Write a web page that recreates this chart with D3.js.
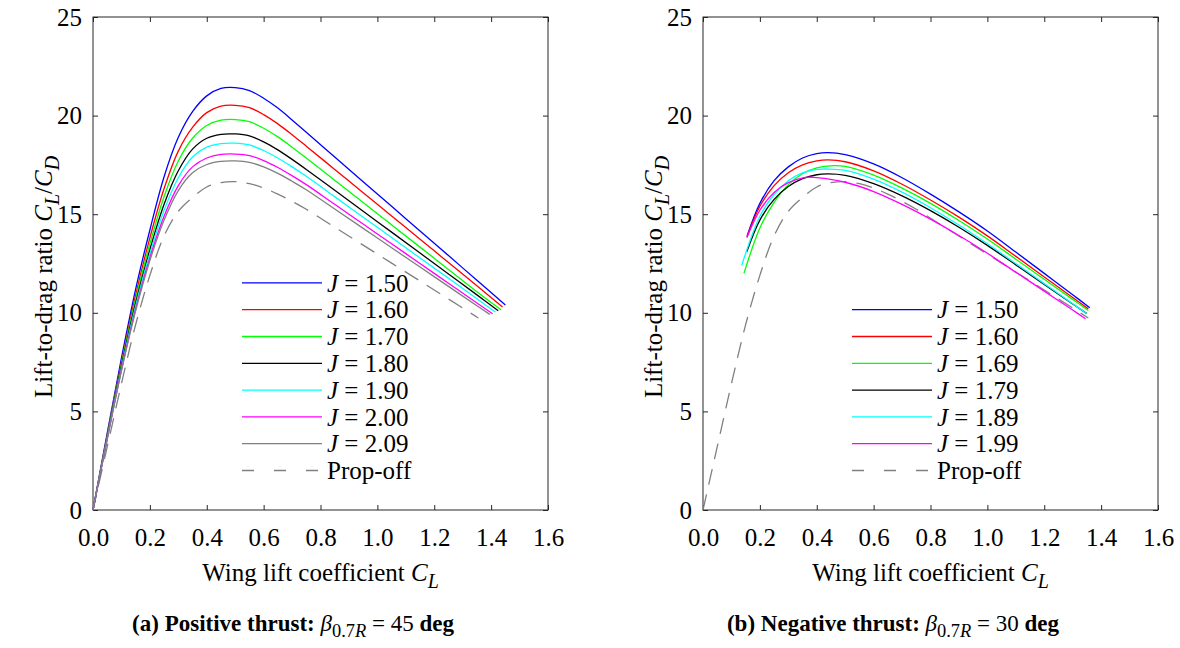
<!DOCTYPE html>
<html>
<head>
<meta charset="utf-8">
<script src="https://cdn.jsdelivr.net/npm/d3@7"></script>
<style>
  body { margin: 0; background: #fff; }
  svg { font-family: "Liberation Serif", "Times New Roman", serif; }
</style>
</head>
<body>
<svg id="fig" width="1180" height="648"></svg>
<script>
// axis ticks
const xTicks = [0, 0.2, 0.4, 0.6, 0.8, 1.0, 1.2, 1.4, 1.6];
const yTicks = [0, 5, 10, 15, 20, 25];

// (a) positive thrust, beta = 45 deg
const posJ = ['1.50', '1.60', '1.70', '1.80', '1.90', '2.00', '2.09'];
const posJ150 = [[0,0],[0.05,3.9],[0.1,7.7],[0.15,11.2],[0.2,14.2],[0.25,16.9],[0.3,18.9],[0.35,20.2],[0.4,21.0],[0.45,21.38],[0.5,21.42],[0.55,21.27],[0.6,20.88],[0.65,20.38],[0.7,19.78],[0.75,19.15],[0.85,17.9],[0.95,16.65],[1.05,15.4],[1.15,14.15],[1.25,12.9],[1.35,11.65],[1.45,10.4]];
const posJ160 = [[0,0],[0.05,3.8],[0.1,7.5],[0.15,10.9],[0.2,13.8],[0.25,16.3],[0.3,18.2],[0.35,19.4],[0.4,20.15],[0.45,20.48],[0.5,20.52],[0.55,20.4],[0.6,20.05],[0.65,19.58],[0.7,19.03],[0.75,18.45],[0.85,17.27],[0.95,16.09],[1.05,14.91],[1.15,13.73],[1.25,12.55],[1.35,11.37],[1.44,10.3]];
const posJ170 = [[0,0],[0.05,3.75],[0.1,7.4],[0.15,10.7],[0.2,13.5],[0.25,15.9],[0.3,17.7],[0.35,18.85],[0.4,19.5],[0.45,19.77],[0.5,19.8],[0.55,19.69],[0.6,19.36],[0.65,18.92],[0.7,18.4],[0.75,17.85],[0.85,16.72],[0.95,15.59],[1.05,14.46],[1.15,13.33],[1.25,12.2],[1.35,11.07],[1.435,10.15]];
const posJ180 = [[0,0],[0.05,3.7],[0.1,7.3],[0.15,10.5],[0.2,13.2],[0.25,15.5],[0.3,17.2],[0.35,18.3],[0.4,18.85],[0.45,19.05],[0.5,19.07],[0.55,18.97],[0.6,18.67],[0.65,18.26],[0.7,17.78],[0.75,17.27],[0.85,16.21],[0.95,15.15],[1.05,14.09],[1.15,13.03],[1.25,11.97],[1.35,10.91],[1.425,10.1]];
const posJ190 = [[0,0],[0.05,3.65],[0.1,7.2],[0.15,10.35],[0.2,13.0],[0.25,15.2],[0.3,16.85],[0.35,17.9],[0.4,18.4],[0.45,18.58],[0.5,18.6],[0.55,18.51],[0.6,18.23],[0.65,17.85],[0.7,17.4],[0.75,16.92],[0.85,15.89],[0.95,14.85],[1.05,13.82],[1.15,12.78],[1.25,11.75],[1.35,10.71],[1.415,10.04]];
const posJ200 = [[0,0],[0.05,3.6],[0.1,7.1],[0.15,10.2],[0.2,12.8],[0.25,14.9],[0.3,16.45],[0.35,17.4],[0.4,17.85],[0.45,18.03],[0.5,18.05],[0.55,17.97],[0.6,17.72],[0.65,17.37],[0.7,16.95],[0.75,16.5],[0.85,15.5],[0.95,14.5],[1.05,13.5],[1.15,12.5],[1.25,11.5],[1.35,10.5],[1.405,9.95]];
const posJ209 = [[0,0],[0.05,3.6],[0.1,7.05],[0.15,10.1],[0.2,12.65],[0.25,14.7],[0.3,16.2],[0.35,17.1],[0.4,17.52],[0.45,17.68],[0.5,17.7],[0.55,17.63],[0.6,17.4],[0.65,17.07],[0.7,16.67],[0.75,16.24],[0.85,15.26],[0.95,14.28],[1.05,13.3],[1.15,12.32],[1.25,11.34],[1.35,10.36],[1.395,9.92]];

// (b) negative thrust, beta = 30 deg
const negJ = ['1.50', '1.60', '1.69', '1.79', '1.89', '1.99'];
const negJ150 = [[0.155,13.9],[0.2,15.55],[0.25,16.7],[0.3,17.4],[0.35,17.85],[0.4,18.07],[0.44,18.12],[0.5,18.02],[0.6,17.55],[0.7,16.85],[0.8,16.02],[0.9,15.12],[1.0,14.15],[1.1,13.08],[1.2,12.0],[1.3,10.92],[1.36,10.26]];
const negJ160 = [[0.155,13.85],[0.2,15.4],[0.25,16.45],[0.3,17.1],[0.35,17.5],[0.4,17.7],[0.44,17.75],[0.5,17.66],[0.6,17.2],[0.7,16.52],[0.8,15.72],[0.9,14.85],[1.0,13.9],[1.1,12.86],[1.2,11.82],[1.3,10.78],[1.355,10.2]];
const negJ169 = [[0.144,12.0],[0.2,14.3],[0.25,15.6],[0.3,16.5],[0.35,17.05],[0.4,17.35],[0.46,17.46],[0.5,17.42],[0.6,16.98],[0.7,16.32],[0.8,15.55],[0.9,14.68],[1.0,13.74],[1.1,12.72],[1.2,11.7],[1.3,10.68],[1.355,10.12]];
const negJ179 = [[0.154,13.1],[0.2,14.7],[0.25,15.75],[0.3,16.4],[0.35,16.8],[0.4,17.0],[0.44,17.04],[0.5,16.97],[0.6,16.55],[0.7,15.93],[0.8,15.18],[0.9,14.34],[1.0,13.42],[1.1,12.43],[1.2,11.44],[1.3,10.45],[1.35,9.96]];
const negJ189 = [[0.136,12.4],[0.2,14.9],[0.25,16.0],[0.3,16.7],[0.35,17.1],[0.4,17.27],[0.44,17.29],[0.5,17.22],[0.6,16.78],[0.7,16.12],[0.8,15.33],[0.9,14.45],[1.0,13.5],[1.1,12.5],[1.2,11.48],[1.3,10.46],[1.35,9.95]];
const negJ199 = [[0.154,13.8],[0.2,15.2],[0.25,16.1],[0.3,16.6],[0.36,16.87],[0.4,16.85],[0.5,16.62],[0.6,16.15],[0.7,15.5],[0.8,14.75],[0.9,13.92],[1.0,13.02],[1.1,12.06],[1.2,11.1],[1.3,10.14],[1.345,9.7]];

// prop-off reference (same in both panels)
const propOff = [[0,0],[0.05,3.2],[0.1,6.4],[0.15,9.4],[0.2,11.9],[0.25,13.9],[0.3,15.15],[0.35,15.85],[0.4,16.38],[0.45,16.6],[0.5,16.65],[0.55,16.55],[0.6,16.33],[0.65,16.02],[0.7,15.65],[0.75,15.25],[0.85,14.34],[0.95,13.43],[1.05,12.52],[1.15,11.61],[1.25,10.7],[1.355,9.74]];

const lineColors = ['#0000ff', '#ff0000', '#00ff00', '#000000', '#00ffff', '#ff00ff', '#808080'];

const svg = d3.select('#fig');
const FS = 25;

// append text made of styled parts (italic / bold / subscript)
function rich(textSel, parts, size) {
    let down = false;
    parts.forEach(p => {
        const ts = textSel.append('tspan').text(p.t);
        if (p.i) ts.attr('font-style', 'italic');
        if (p.b) ts.attr('font-weight', 'bold');
        if (p.sub) {
            ts.attr('font-size', size * 0.8);
            if (!down) { ts.attr('dy', size * 0.28); down = true; }
        } else if (down) {
            ts.attr('dy', -size * 0.28);
            down = false;
        }
    });
}

function drawPanel(left, series, jLabels, caption, capX) {
    const x = d3.scaleLinear().domain([0, 1.6]).range([left, left + 455]);
    const y = d3.scaleLinear().domain([0, 25]).range([510, 17]);
    const g = svg.append('g');

    const bottom = g.append('g').attr('transform', 'translate(0,510)')
        .call(d3.axisBottom(x).tickValues(xTicks).tickSizeInner(-5).tickSizeOuter(0)
            .tickPadding(18).tickFormat(d3.format('.1f')));
    const leftAx = g.append('g').attr('transform', `translate(${left},0)`)
        .call(d3.axisLeft(y).tickValues(yTicks).tickSizeInner(-5).tickSizeOuter(0)
            .tickPadding(11).tickFormat(d3.format('d')));
    const top = g.append('g').attr('transform', 'translate(0,17)')
        .call(d3.axisTop(x).tickValues(xTicks).tickSizeInner(-5).tickSizeOuter(0).tickFormat(''));
    const right = g.append('g').attr('transform', `translate(${left + 455},0)`)
        .call(d3.axisRight(y).tickValues(yTicks).tickSizeInner(-5).tickSizeOuter(0).tickFormat(''));

    [bottom, leftAx, top, right].forEach(a => {
        a.attr('font-family', null).attr('font-size', FS);
        a.select('.domain').remove();
        a.selectAll('line').attr('stroke', '#262626');
        a.selectAll('text').attr('fill', '#000');
    });

    g.append('rect')
        .attr('x', left).attr('y', 17)
        .attr('width', 455).attr('height', 493)
        .attr('fill', 'none').attr('stroke', '#262626').attr('stroke-width', 1);

    const line = d3.line().x(d => x(d[0])).y(d => y(d[1])).curve(d3.curveCatmullRom.alpha(0.5));

    g.append('path').datum(propOff)
        .attr('d', line).attr('fill', 'none')
        .attr('stroke', '#808080').attr('stroke-width', 1.3)
        .attr('stroke-dasharray', '16,10');

    series.forEach((s, i) => {
        g.append('path').datum(s)
            .attr('d', line).attr('fill', 'none')
            .attr('stroke', lineColors[i]).attr('stroke-width', 1.3);
    });

    // legend, rows anchored at the bottom
    const n = series.length + 1;
    const lx = left + 149;
    const rowY = i => 470.5 - (n - 1 - i) * 26.8;
    const leg = g.append('g').attr('font-size', FS);
    jLabels.forEach((j, i) => {
        leg.append('line').attr('x1', lx).attr('x2', lx + 80)
            .attr('y1', rowY(i)).attr('y2', rowY(i))
            .attr('stroke', lineColors[i]).attr('stroke-width', 1.3);
        const t = leg.append('text').attr('x', lx + 85).attr('y', rowY(i)).attr('dy', '0.35em');
        rich(t, [{ t: 'J', i: true }, { t: ' = ' + j }], FS);
    });
    leg.append('line').attr('x1', lx).attr('x2', lx + 80)
        .attr('y1', rowY(n - 1)).attr('y2', rowY(n - 1))
        .attr('stroke', '#808080').attr('stroke-width', 1.3)
        .attr('stroke-dasharray', '12,20');
    leg.append('text').attr('x', lx + 85).attr('y', rowY(n - 1)).attr('dy', '0.35em').text('Prop-off');

    // axis titles
    const xl = g.append('text').attr('x', left + 227.5).attr('y', 581)
        .attr('text-anchor', 'middle').attr('font-size', FS);
    rich(xl, [{ t: 'Wing lift coefficient ' }, { t: 'C', i: true }, { t: 'L', i: true, sub: true }], FS);

    const yl = g.append('text').attr('transform', `translate(${left - 41},277) rotate(-90)`)
        .attr('text-anchor', 'middle').attr('font-size', FS);
    rich(yl, [{ t: 'Lift-to-drag ratio ' }, { t: 'C', i: true }, { t: 'L', i: true, sub: true },
              { t: '/' }, { t: 'C', i: true }, { t: 'D', i: true, sub: true }], FS);

    const cap = g.append('text').attr('x', capX).attr('y', 631)
        .attr('text-anchor', 'middle').attr('font-size', 23);
    rich(cap, caption, 23);
}

drawPanel(93, [posJ150, posJ160, posJ170, posJ180, posJ190, posJ200, posJ209], posJ,
    [{ t: '(a) Positive thrust: ', b: true }, { t: 'β', i: true }, { t: '0.7', sub: true },
     { t: 'R', i: true, sub: true }, { t: ' = 45 ' }, { t: 'deg', b: true }], 293);

drawPanel(703, [negJ150, negJ160, negJ169, negJ179, negJ189, negJ199], negJ,
    [{ t: '(b) Negative thrust: ', b: true }, { t: 'β', i: true }, { t: '0.7', sub: true },
     { t: 'R', i: true, sub: true }, { t: ' = 30 ' }, { t: 'deg', b: true }], 893);
</script>
</body>
</html>
